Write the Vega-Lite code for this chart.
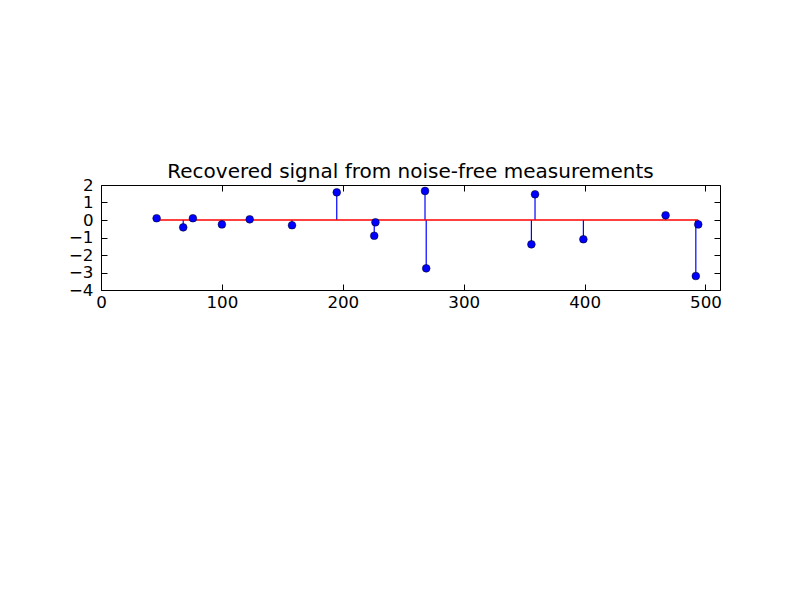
{
  "$schema": "https://vega.github.io/schema/vega-lite/v6.json",
  "autosize": "none",
  "padding": {"left": 101, "top": 185, "right": 80, "bottom": 310},
  "width": 619,
  "height": 105,
  "background": "white",
  "title": {"text": "Recovered signal from noise-free measurements", "fontSize": 20, "font": "DejaVu Sans", "fontWeight": "normal", "color": "black", "offset": -5},
  "config": {
    "view": {"stroke": "black", "strokeWidth": 1},
    "axis": {"domain": false, "grid": false, "tickColor": "black", "tickSize": -6, "tickWidth": 1, "labelFont": "DejaVu Sans", "labelFontSize": 16.7, "labelColor": "black", "title": null, "labelFlush": false, "labelOverlap": false}
  },
  "data": {"values": [
    {"idx": 46, "val": 0.10},
    {"idx": 68, "val": -0.42},
    {"idx": 76, "val": 0.10},
    {"idx": 100, "val": -0.25},
    {"idx": 123, "val": 0.04},
    {"idx": 158, "val": -0.30},
    {"idx": 195, "val": 1.58},
    {"idx": 226, "val": -0.90},
    {"idx": 227, "val": -0.13},
    {"idx": 268, "val": 1.66},
    {"idx": 269, "val": -2.76},
    {"idx": 356, "val": -1.39},
    {"idx": 359, "val": 1.47},
    {"idx": 399, "val": -1.10},
    {"idx": 467, "val": 0.27},
    {"idx": 492, "val": -3.20},
    {"idx": 494, "val": -0.25}
  ]},
  "resolve": {"axis": {"x": "independent", "y": "independent"}},
  "layer": [
    {
      "mark": {"type": "rule", "color": "#0000ff", "strokeWidth": 1.2},
      "encoding": {
        "x": {"field": "idx", "type": "quantitative", "scale": {"domain": [0, 512], "nice": false, "zero": false}, "axis": {"orient": "bottom", "values": [0, 100, 200, 300, 400, 500], "labelPadding": 10}},
        "y": {"field": "val", "type": "quantitative", "scale": {"domain": [-4, 2], "nice": false}, "axis": {"orient": "left", "values": [-4, -3, -2, -1, 0, 1, 2], "labelPadding": 14}},
        "y2": {"datum": 0}
      }
    },
    {
      "mark": {"type": "rule", "color": "#ff0000", "strokeWidth": 1.4},
      "encoding": {
        "x": {"aggregate": "min", "field": "idx", "type": "quantitative", "axis": {"orient": "top", "values": [0, 100, 200, 300, 400, 500], "labels": false}},
        "x2": {"aggregate": "max", "field": "idx"},
        "y": {"datum": 0, "type": "quantitative", "axis": {"orient": "right", "values": [-4, -3, -2, -1, 0, 1, 2], "labels": false}}
      }
    },
    {
      "mark": {"type": "point", "shape": "circle", "filled": true, "size": 60, "color": "#0000ff", "stroke": "black", "strokeWidth": 0.5, "opacity": 1},
      "encoding": {
        "x": {"field": "idx", "type": "quantitative", "axis": null},
        "y": {"field": "val", "type": "quantitative", "axis": null}
      }
    }
  ]
}
